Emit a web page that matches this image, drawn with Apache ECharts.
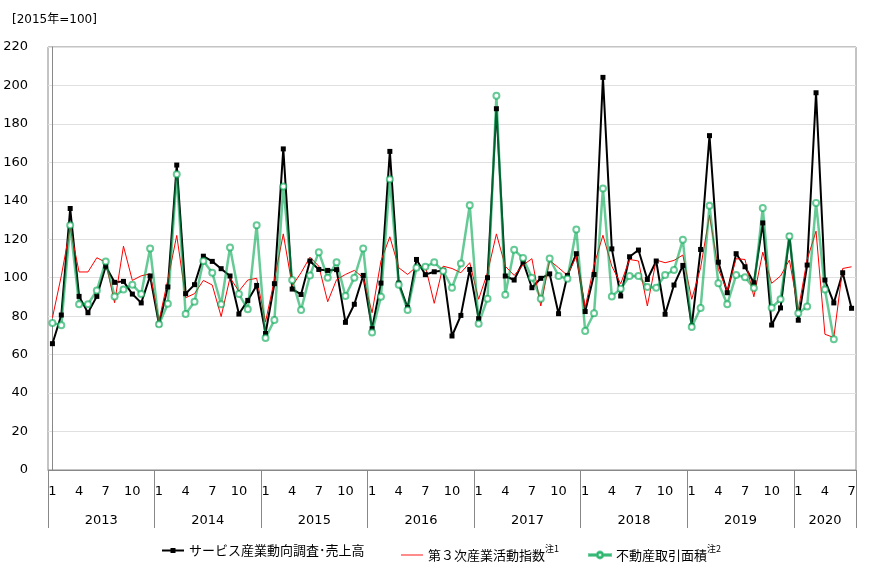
<!DOCTYPE html>
<html>
<head>
<meta charset="utf-8">
<script src="https://cdn.jsdelivr.net/npm/echarts@6/dist/echarts.min.js"></script>
<style>html,body{margin:0;padding:0;background:#fff;}#c{width:870px;height:567px;}</style>
</head>
<body>
<div id="c"></div>
<script>
// ---- data ----
var years = ['2013','2014','2015','2016','2017','2018','2019','2020'];
var monthsPerYear = [12,12,12,12,12,12,12,7];
var monthLabels = [];
years.forEach(function (y, k) { for (var m = 1; m <= monthsPerYear[k]; m++) monthLabels.push(String(m)); });

var seriesNames = ['サービス産業動向調査･売上高', '第３次産業活動指数', '不動産取引面積'];
var noteMarks = ['', '注1', '注2'];

var sales = [
  65.7, 80.6, 136, 90.3, 81.8, 90.3, 106, 97.6, 98.1, 91.5, 86.9, 100.9,
  75.8, 95.2, 158.6, 91.7, 96.4, 111.2, 108.5, 104.7, 100.9, 81.1, 88.2, 96,
  71, 96.9, 167, 94.1, 91.3, 108.7, 104.3, 103.8, 104.2, 76.8, 86.2, 101.2,
  73.5, 97.2, 165.7, 97.2, 84.4, 109.5, 101.6, 103.1, 103.8, 69.7, 80.4, 104.3,
  78.7, 100, 187.9, 100.9, 98.8, 108.3, 94.8, 99.7, 102, 81.3, 101.2, 112.5,
  82.4, 101.7, 204.2, 115, 90.5, 110.9, 114.4, 99.1, 108.7, 81, 96.2, 106.4,
  74.9, 114.7, 173.9, 108.1, 92.2, 112.5, 105.7, 97.4, 128.5, 75.4, 84.3, 121.6,
  77.9, 106.6, 196.2, 98.8, 86.9, 102.6, 84.1
];
var tertiary = [
  79.2, 101, 126, 103, 103, 110.4, 108, 87, 116.4, 98.6, 101, 102,
  77.5, 99, 122, 89.6, 91.7, 98.6, 96.2, 79.8, 100, 93, 98.8, 99.7,
  77, 99, 122.8, 95.7, 102.6, 110.7, 106, 87.5, 99, 101.7, 103.8, 100,
  81.8, 108.7, 121.3, 105.2, 101.7, 105.7, 106, 86.7, 106, 104.8, 102.6, 107.8,
  88.8, 102.6, 122.8, 106, 101.2, 106.6, 109.9, 85.3, 109, 105.2, 101.2, 111.2,
  84.4, 106.6, 122.1, 106, 96.9, 109.5, 108.7, 85.3, 109.2, 107.8, 109, 111.8,
  88.8, 105.2, 132.5, 104.3, 93.1, 109.9, 109.5, 90.1, 113.3, 97.1, 100.9, 109.2,
  83.2, 109.5, 124.2, 70.6, 68.9, 104.8, 105.7
];
var realEstate = [
  76.5, 75.3, 127.3, 86.2, 86.2, 93.4, 108.5, 90.3, 93.9, 96.4, 91.5, 115.2,
  75.8, 86.5, 153.8, 81.1, 87.5, 108.7, 102.6, 86.2, 115.7, 91.5, 83.6, 127.3,
  68.7, 78, 147.4, 98.8, 83.2, 101.2, 113.3, 100, 108.1, 90.5, 100, 115.2,
  71.5, 90.1, 151.2, 96.4, 83.2, 105.2, 105.7, 108, 103.5, 94.8, 107.4, 137.7,
  76.1, 89.1, 194.6, 91.2, 114.5, 110.2, 100, 89.1, 110, 100.9, 99.5, 125.1,
  72.3, 81.5, 146.4, 90.3, 94.3, 100.9, 100.9, 95.2, 94.8, 101.4, 104, 119.7,
  74.4, 84.3, 137.5, 97.1, 86.2, 101.4, 100.3, 94.6, 136.3, 84.4, 88.8, 121.6,
  81.5, 85, 138.9, 93.9, 68
];
var yTicks = { min: 0, max: 220, step: 20 };
var unitLabel = '[2015年=100]';

// ---- derived: year label centres on the month scale ----
var yearCenter = {};
(function () {
  var start = 0;
  years.forEach(function (y, k) {
    yearCenter[(start + (monthsPerYear[k] - 1) / 2).toFixed(1)] = y;
    start += monthsPerYear[k];
  });
})();
var nMonths = monthLabels.length;

var FONT = "'DejaVu Sans', 'Noto Sans CJK JP', sans-serif";
var JFONT = "'Noto Sans CJK JP', sans-serif";
var GREEN = 'rgba(0,166,80,0.6)';

// legend sample icons (line + marker)
var ICON_SQUARE = 'path://M0 2.5L8.5 2.5L8.5 1L13.5 1L13.5 6L8.5 6L8.5 4.5L0 4.5Z M13.5 2.5L22 2.5L22 4.5L13.5 4.5Z';
var ICON_LINE = 'path://M0 0L24 0L24 1L0 1Z';
var ICON_RING = 'path://M0 2.7L7.6 2.7L7.6 4.3L0 4.3Z M14.4 2.7L22 2.7L22 4.3L14.4 4.3Z ' +
  'M7.6 3.5A3.4 3.4 0 0 1 14.4 3.5A3.4 3.4 0 0 1 7.6 3.5Z M9 3.5A2 2 0 0 0 13 3.5A2 2 0 0 0 9 3.5Z';

function legendFmt(name) {
  var k = seriesNames.indexOf(name);
  var s = '{n|' + name + '}';
  if (noteMarks[k]) s += '{s|' + noteMarks[k] + '}';
  return s;
}
function legendCfg(item, left, w) {
  return {
    data: [item], left: left, top: 539, itemWidth: w, itemHeight: 7,
    formatter: legendFmt, selectedMode: false,
    textStyle: {
      fontFamily: JFONT, fontSize: 13, color: '#000',
      rich: {
        n: { fontFamily: JFONT, fontSize: 13, color: '#000', lineHeight: 22 },
        s: { fontFamily: JFONT, fontSize: 9, color: '#000', lineHeight: 9, verticalAlign: 'top' }
      }
    }
  };
}

var chart = echarts.init(document.getElementById('c'), null, { renderer: 'canvas' });
chart.setOption({
  animation: false,
  backgroundColor: '#fff',
  title: {
    text: unitLabel, left: 7, top: 9,
    textStyle: { fontFamily: FONT, fontSize: 12, fontWeight: 'normal', color: '#000' }
  },
  legend: [
    legendCfg({ name: seriesNames[0], icon: ICON_SQUARE }, 157, 22),
    legendCfg({ name: seriesNames[1], icon: ICON_LINE }, 396, 22),
    legendCfg({ name: seriesNames[2], icon: ICON_RING }, 583, 22)
  ],
  grid: { left: 48, right: 14, top: 47, bottom: 97, show: true, borderColor: '#888', borderWidth: 1, containLabel: false },
  xAxis: [
    {
      type: 'category', data: monthLabels, boundaryGap: true,
      axisLine: { show: true, lineStyle: { color: '#888', width: 1 } },
      axisTick: {
        show: true, length: 58, inside: false,
        interval: function (idx) { return idx % 12 === 0; },
        lineStyle: { color: '#888', width: 1 }
      },
      axisLabel: {
        interval: function (idx) { return idx % 3 === 0; },
        margin: 15, fontFamily: FONT, fontSize: 13, color: '#000'
      },
      splitLine: { show: false }
    },
    {
      type: 'value', position: 'bottom', min: -0.5, max: nMonths - 0.5, interval: 0.5,
      axisLine: { show: false }, axisTick: { show: false }, splitLine: { show: false },
      axisLabel: {
        margin: 44, fontFamily: FONT, fontSize: 13, color: '#000',
        showMinLabel: true, showMaxLabel: true,
        formatter: function (v) { var key = (Math.round(v * 2) / 2).toFixed(1); return yearCenter[key] || ''; }
      }
    }
  ],
  yAxis: {
    type: 'value', min: yTicks.min, max: yTicks.max, interval: yTicks.step,
    axisLine: { show: true, lineStyle: { color: '#888', width: 1 } },
    axisTick: { show: false },
    axisLabel: { margin: 20, fontFamily: FONT, fontSize: 13, color: '#000' },
    splitLine: { show: true, lineStyle: { color: '#e0e0e0', width: 1 } }
  },
  series: [
    {
      name: seriesNames[0], type: 'line', data: sales, xAxisIndex: 0,
      symbol: 'rect', symbolSize: 5, showAllSymbol: true,
      lineStyle: { color: '#000', width: 2 },
      itemStyle: { color: '#000' }
    },
    {
      name: seriesNames[1], type: 'line', data: tertiary, xAxisIndex: 0,
      symbol: 'none', showSymbol: false,
      lineStyle: { color: '#ff0000', width: 1 },
      itemStyle: { color: '#ff0000' }
    },
    {
      name: seriesNames[2], type: 'line', data: realEstate, xAxisIndex: 0,
      symbol: 'emptyCircle', symbolSize: 6, showAllSymbol: true,
      lineStyle: { color: GREEN, width: 2.5 },
      itemStyle: { color: GREEN, borderColor: GREEN, borderWidth: 1.2 }
    }
  ]
});
</script>
</body>
</html>
